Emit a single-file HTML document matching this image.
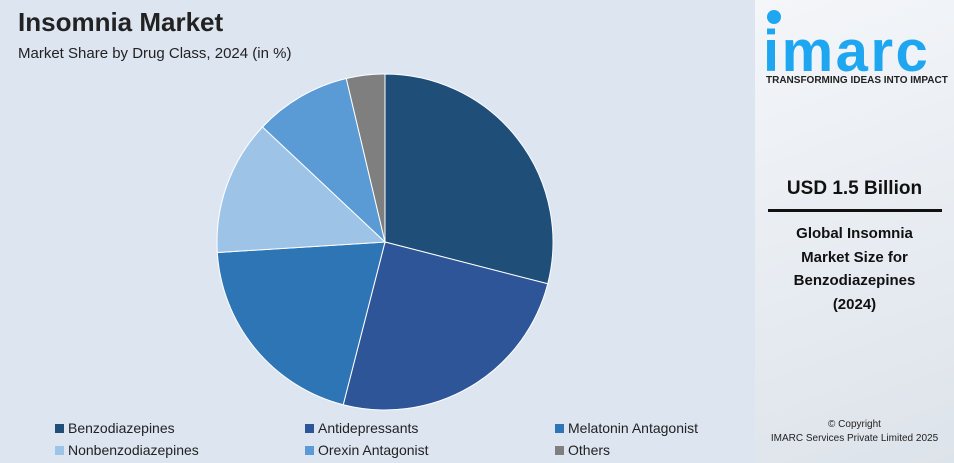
<!DOCTYPE html>
<html><head><meta charset="utf-8"><style>
body{margin:0;width:954px;height:463px;overflow:hidden;font-family:"Liberation Sans",sans-serif;background:#dde5f1;position:relative}
.t{position:absolute;white-space:nowrap}
#right{position:absolute;left:755px;top:0;width:199px;height:463px;background:linear-gradient(160deg,#f4f6f9,#e6ebf1 60%,#dde3ea)}
.leg{position:absolute;font-size:14px;color:#222}
.leg i{display:inline-block;width:9px;height:9px;margin-right:4px;vertical-align:0px}
</style></head><body>
<div class="t" style="left:18px;top:7px;font-size:26px;font-weight:bold;color:#222">Insomnia Market</div>
<div class="t" style="left:18px;top:45px;font-size:15px;color:#222">Market Share by Drug Class, 2024 (in %)</div>
<svg id="pie" width="954" height="463" style="position:absolute;left:0;top:0"></svg>
<div id="legend"></div>
<div id="right">
<div style="position:absolute;left:12px;top:10px;width:14px;height:14px;border-radius:50%;background:#1ea7f0"></div>
<div class="t" style="left:8px;top:18px;font-size:58px;font-weight:bold;color:#1ea7f0;letter-spacing:2.5px">imarc</div>
<div class="t" style="left:11px;top:75px;font-size:10px;font-weight:bold;color:#222">TRANSFORMING IDEAS INTO IMPACT</div>
<div class="t" style="left:0;width:199px;text-align:center;top:178px;font-size:19px;font-weight:bold;color:#111">USD 1.5 Billion</div>
<div style="position:absolute;left:13px;top:209px;width:174px;height:3px;background:#111"></div>
<div class="t" style="left:0;width:199px;text-align:center;top:222px;font-size:15px;font-weight:bold;color:#111;line-height:23.5px;white-space:normal">Global Insomnia<br>Market Size for<br>Benzodiazepines<br>(2024)</div>
<div class="t" style="left:0;width:199px;text-align:center;top:418px;font-size:10px;color:#222;line-height:14px">© Copyright<br>IMARC Services Private Limited 2025</div>
</div>
<script>
const categories=["Benzodiazepines","Antidepressants","Melatonin Antagonist","Nonbenzodiazepines","Orexin Antagonist","Others"];
const values=[29,25,20,13,9.3,3.7];
const colors=["#1f4e79","#2e5597","#2e75b6","#9dc3e6","#5b9bd5","#7f7f7f"];
const svg=document.getElementById('pie');
const cx=385,cy=242,r=168;
const total=values.reduce((a,b)=>a+b,0);
let a0=0;
values.forEach((v,i)=>{
  const a1=a0+v/total*2*Math.PI;
  const x0=cx+r*Math.sin(a0),y0=cy-r*Math.cos(a0),x1=cx+r*Math.sin(a1),y1=cy-r*Math.cos(a1);
  const p=document.createElementNS('http://www.w3.org/2000/svg','path');
  p.setAttribute('d',`M${cx},${cy}L${x0},${y0}A${r},${r} 0 ${a1-a0>Math.PI?1:0} 1 ${x1},${y1}Z`);
  p.setAttribute('fill',colors[i]);
  p.setAttribute('stroke','#fff');p.setAttribute('stroke-width','1');
  
  
  svg.appendChild(p);a0=a1;
});
const lg=document.getElementById('legend');
const lx=[55,305,555],ly=[420,442];
categories.forEach((c,i)=>{
  const d=document.createElement('div');d.className='leg';
  d.style.left=lx[i%3]+'px';d.style.top=ly[Math.floor(i/3)]+'px';
  d.innerHTML=`<i style="background:${colors[i]}"></i>${c}`;
  
  
  lg.appendChild(d);
});
</script>
</body></html>
